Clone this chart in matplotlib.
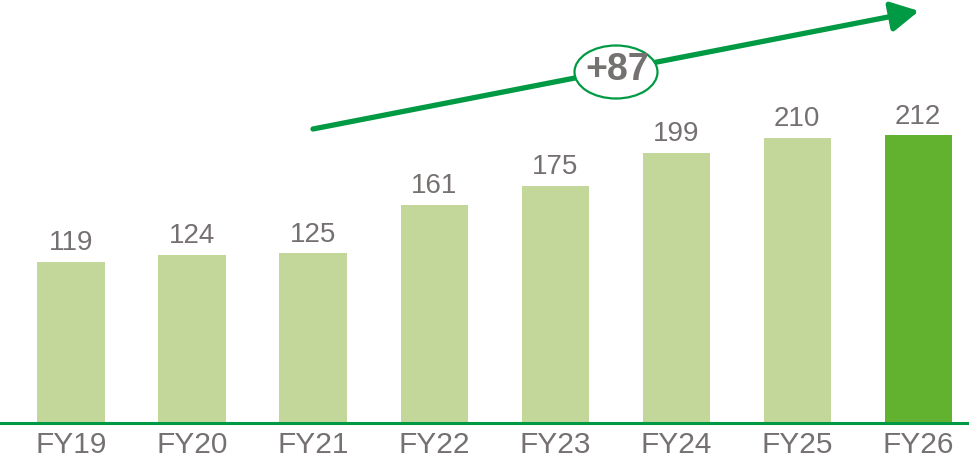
import matplotlib
matplotlib.use("Agg")
import matplotlib.pyplot as plt
from matplotlib.patches import Ellipse, FancyArrowPatch

categories = ["FY19", "FY20", "FY21", "FY22", "FY23", "FY24", "FY25", "FY26"]
values = [119, 124, 125, 161, 175, 199, 210, 212]
growth_label = "+87"

light = "#c4d79b"
dark = "#62b22f"
green = "#009a44"
gray = "#767171"

plt.rcParams['font.family'] = ['Liberation Sans', 'DejaVu Sans']

W, H = 969, 465
fig = plt.figure(figsize=(W / 100, H / 100), dpi=100)
ax = fig.add_axes([0, 42 / H, 1, 423 / H])

x = list(range(len(categories)))
colors = [light] * (len(values) - 1) + [dark]
bars = ax.bar(x, values, width=0.555, color=colors, zorder=2)

for xi, v in zip(x, values):
    ax.annotate(str(v), (xi, v), xytext=(0, 4), textcoords="offset points",
                ha="center", va="bottom", fontsize=20, color=gray)

ax.set_xlim(-0.587, 7.42)
ax.set_ylim(0, 311.7)
ax.set_xticks(x)
ax.set_xticklabels(categories, fontsize=21.5, color=gray)
ax.tick_params(axis="x", length=0, pad=6)
ax.set_yticks([])
for s in ["top", "right", "left"]:
    ax.spines[s].set_visible(False)
ax.spines["bottom"].set_color(green)
ax.spines["bottom"].set_linewidth(2.2)
ax.spines["bottom"].set_zorder(3)

arrow = FancyArrowPatch((313 / W, 1 - 129 / H), (919 / W, 1 - 11 / H),
                        transform=fig.transFigure, arrowstyle="-|>,head_length=1.4,head_width=0.75",
                        mutation_scale=12, color=green, linewidth=3.8, shrinkA=0, shrinkB=0)
fig.add_artist(arrow)

ell = Ellipse((616 / W, 1 - 72 / H), 83 / W, 53 / H, transform=fig.transFigure,
              facecolor="white", edgecolor=green, linewidth=1.6, zorder=5)
fig.add_artist(ell)
fig.text(617 / W, 1 - 70 / H, growth_label, ha="center", va="center", fontsize=27,
         fontweight="bold", color=gray, zorder=6)

fig.savefig("out.png", dpi=100)
